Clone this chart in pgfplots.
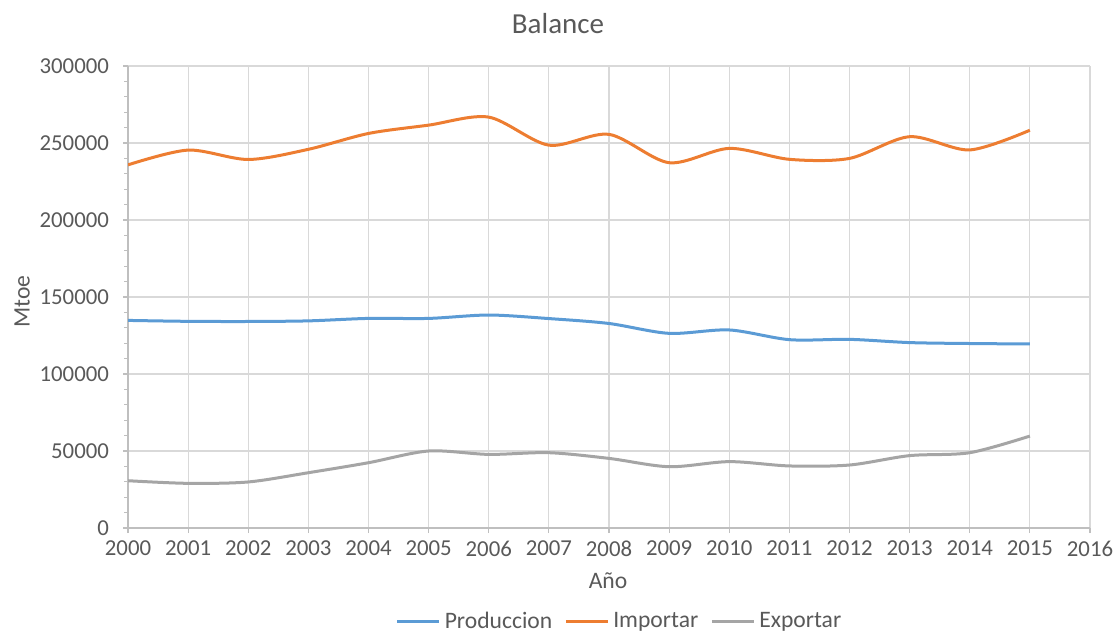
\documentclass[border=0pt]{standalone}
\usepackage{pgfplots}
\pgfplotsset{compat=1.18}
\usepackage{fontspec}
\setmainfont{Carlito}
\definecolor{cblue}{HTML}{5B9BD5}
\definecolor{corange}{HTML}{ED7D31}
\definecolor{cgray}{HTML}{A5A5A5}
\definecolor{ctext}{HTML}{595959}
\definecolor{cgrid}{HTML}{D9D9D9}
\definecolor{caxis}{HTML}{BFBFBF}
\begin{document}
\begin{tikzpicture}
\path[use as bounding box] (0,0) rectangle (558.5pt,316.5pt);
\begin{axis}[
  at={(64pt,52.5pt)}, anchor=south west,
  scale only axis,
  width=481pt, height=231pt,
  xmin=2000, xmax=2016, ymin=0, ymax=300000,
  xtick={2000,2001,...,2016},
  ytick={0,50000,...,300000},
  minor y tick num=4,
  scaled y ticks=false,
  /pgf/number format/fixed,
  /pgf/number format/set thousands separator={},
  /pgf/number format/assume math mode=true,
  xticklabel style={/pgf/number format/1000 sep={}},
  ticklabel style={font=\fontsize{11.4}{13}\selectfont, text=ctext},
  xticklabel style={yshift=-0.5pt},
  yticklabel style={xshift=-3.5pt},
  tick align=outside,
  major tick length=2.5pt,
  minor tick length=2pt,
  tick style={caxis, line width=0.6pt},
  minor y tick style={caxis},
  xmajorgrids, ymajorgrids,
  grid style={cgrid, line width=0.6pt},
  axis x line*=bottom, axis y line*=left,
  axis line style={caxis, line width=0.8pt, -},
  title={Balance},
  title style={at={(axis description cs:0.447,1.065)}, anchor=center, font=\fontsize{14.5}{16}\selectfont, text=ctext},
  xlabel={Año},
  xlabel style={at={(axis description cs:0.499,-0.113)}, anchor=center, font=\fontsize{11.8}{13}\selectfont, text=ctext},
  ylabel={Mtoe},
  ylabel style={at={(axis description cs:-0.110,0.49)}, anchor=center, rotate=0, font=\fontsize{11.8}{13}\selectfont, text=ctext},
  legend style={at={(axis description cs:0.512,-0.203)}, anchor=center, draw=none, fill=none,
    legend columns=3, font=\fontsize{11.8}{14}\selectfont, text=ctext,
    /tikz/every even column/.append style={column sep=4pt}},
  legend image code/.code={\draw[#1, line width=1.5pt] (0pt,0pt) -- (21pt,0pt);},
  every axis plot/.append style={line width=1.5pt, smooth, tension=0.5, no markers},
]
\addplot[cblue] coordinates {
(2000,134800) (2001,134200) (2002,134100) (2003,134500) (2004,136100) (2005,136100)
(2006,138300) (2007,136000) (2008,132800) (2009,126400) (2010,128600) (2011,122300)
(2012,122500) (2013,120400) (2014,119800) (2015,119500)};
\addlegendentry{Produccion}
\addplot[corange] coordinates {
(2000,235800) (2001,245400) (2002,239300) (2003,245900) (2004,256200) (2005,261600)
(2006,266800) (2007,248600) (2008,255600) (2009,237200) (2010,246500) (2011,239400)
(2012,240000) (2013,254100) (2014,245500) (2015,258300)};
\addlegendentry{Importar}
\addplot[cgray] coordinates {
(2000,30700) (2001,29000) (2002,29900) (2003,35900) (2004,42400) (2005,50000)
(2006,47800) (2007,48900) (2008,45200) (2009,39800) (2010,43100) (2011,40300)
(2012,40900) (2013,47000) (2014,48900) (2015,59700)};
\addlegendentry{Exportar}
\end{axis}
\end{tikzpicture}
\end{document}
